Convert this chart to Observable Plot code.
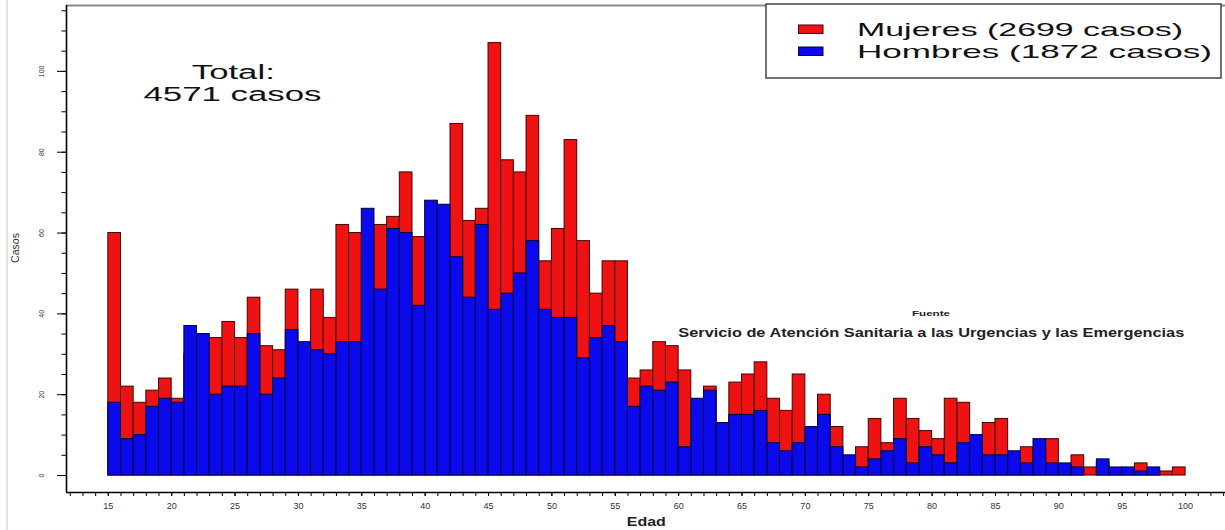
<!DOCTYPE html>
<html>
<head>
<meta charset="utf-8">
<script src="https://cdn.jsdelivr.net/npm/d3@7"></script>
<script src="https://cdn.jsdelivr.net/npm/@observablehq/plot@0.6"></script>
<style>
html, body { margin: 0; padding: 0; background: #fff; }
#wrap { position: relative; width: 1225px; height: 530px; overflow: hidden; }
</style>
</head>
<body>
<div id="wrap"></div>
<script>
// ---- Data ----
const edades = [15,16,17,18,19,20,21,22,23,24,25,26,27,28,29,30,31,32,33,34,35,36,37,38,39,40,41,42,43,44,45,46,47,48,49,50,51,52,53,54,55,56,57,58,59,60,61,62,63,64,65,66,67,68,69,70,71,72,73,74,75,76,77,78,79,80,81,82,83,84,85,86,87,88,89,90,91,92,93,94,95,96,97,98,99];
const mujeres = [60,22,18,21,24,19,30,30,34,38,34,44,32,31,46,28,46,39,62,60,55,62,64,75,59,58,57,87,63,66,107,78,75,89,53,61,83,58,45,53,53,24,26,33,32,26,16,22,11,23,25,28,19,16,25,10,20,12,4,7,14,8,19,14,11,9,19,18,8,13,14,5,7,7,9,2,5,2,3,1,1,3,1,1,2];
const hombres = [18,9,10,17,19,18,37,35,20,22,22,35,20,24,36,33,31,30,33,33,66,46,61,60,42,68,67,54,44,62,41,45,50,58,41,39,39,29,34,37,33,17,22,21,23,7,19,21,13,15,15,16,8,6,8,12,15,7,5,2,4,6,9,3,7,5,3,8,10,5,5,6,3,9,3,3,2,0,4,2,2,1,2,0,0];
const totalMujeres = 2699;
const totalHombres = 1872;
const yTicks = [0,20,40,60,80,100];
const xTicks = [15,20,25,30,35,40,45,50,55,60,65,70,75,80,85,90,95,100];
const serieNombres = ["Mujeres", "Hombres"];
const serieColores = ["#ee1212", "#0a0aec"];
const serieBordes = ["#4a0000", "#00003f"];
const ejeX = "Edad";
const ejeY = "Casos";
const fuente = "Fuente";
const fuenteTexto = "Servicio de Atención Sanitaria a las Urgencias y las Emergencias";

// ---- Build ----
const data = edades.map((e, i) => ({edad: e, mujeres: mujeres[i], hombres: hombres[i]}));
const xDomain = [11.7, 103.15];
const yDomain = [-4.2, 116.3];
const font = "'Liberation Sans', Arial, Helvetica, sans-serif";

const chart = Plot.plot({
  width: 1225,
  height: 530,
  marginLeft: 66,
  marginRight: 0,
  marginTop: 5,
  marginBottom: 38,
  x: {domain: xDomain},
  y: {domain: yDomain},
  style: {fontFamily: font, background: "transparent", color: "#000"},
  marks: [
    Plot.rect(data, {x1: "edad", x2: d => d.edad + 1, y1: 0, y2: "mujeres", fill: serieColores[0], stroke: serieBordes[0], strokeWidth: 1}),
    Plot.rect(data, {x1: "edad", x2: d => d.edad + 1, y1: 0, y2: "hombres", fill: serieColores[1], stroke: serieBordes[1], strokeWidth: 1}),
    Plot.ruleY([yDomain[1]], {stroke: "#8a8a8a", strokeWidth: 2}),
    Plot.ruleX([xDomain[0]], {stroke: "#000", strokeWidth: 1.6}),
    Plot.ruleY([yDomain[0]], {stroke: "#000", strokeWidth: 1.3}),
    Plot.axisY({ticks: d3.range(0, 116, 5), tickSize: 4.5, tickFormat: () => "", label: null}),
    Plot.axisY({ticks: yTicks, tickSize: 9, tickFormat: () => "", label: null}),
    Plot.text(yTicks, {y: d => d, text: d => String(d), frameAnchor: "left", dx: -24.5, rotate: -90, textAnchor: "middle", lineAnchor: "middle", fontSize: 7, fill: "#333"}),
    Plot.axisX({ticks: d3.range(12, 104), tickSize: 4, tickFormat: () => "", label: null}),
    Plot.axisX({ticks: xTicks, tickSize: 4, tickPadding: 6, fontSize: 9, fill: "#333", label: null})
  ]
});

document.getElementById("wrap").appendChild(chart);

// ---- Annotations and legend (horizontally stretched like the reference) ----
const svg = d3.select(chart);
svg.insert("line", ":first-child").attr("x1", 7).attr("x2", 7).attr("y1", 0).attr("y2", 530)
  .attr("stroke", "#e2e2e2").attr("stroke-width", 2);

function label(g, txt, x, y, size, width, opts = {}) {
  const t = g.append("text").attr("x", x).attr("y", y)
    .attr("font-family", font).attr("font-size", size)
    .attr("font-weight", opts.weight || "normal")
    .attr("fill", opts.fill || "#111")
    .attr("text-anchor", opts.anchor || "start")
    .text(txt);
  if (width) t.attr("textLength", width).attr("lengthAdjust", "spacingAndGlyphs");
  if (opts.rotate) t.attr("transform", `rotate(${opts.rotate},${x},${y})`);
  return t;
}

const ann = svg.append("g");
// Total
label(ann, "Total:", 233.3, 79, 19.5, 83, {anchor: "middle"});
label(ann, `${totalMujeres + totalHombres} casos`, 232.5, 101, 19.5, 178, {anchor: "middle"});
// Source
label(ann, fuente, 931, 316, 7, 38, {anchor: "middle", weight: "bold", fill: "#222"});
label(ann, fuenteTexto, 678.3, 337.3, 12, 506, {weight: "bold", fill: "#222"});
// Axis titles
label(ann, ejeX, 646.3, 526, 12, 39, {anchor: "middle", weight: "bold", fill: "#222"});
label(ann, ejeY, 18.5, 248, 11, 30, {anchor: "middle", rotate: -90, fill: "#333"});

// Legend
const leg = svg.append("g");
leg.append("rect").attr("x", 766).attr("y", 4).attr("width", 455).attr("height", 74)
  .attr("fill", "#fff").attr("stroke", "#444").attr("stroke-width", 1.5);
const legendTexts = [`${serieNombres[0]} (${totalMujeres} casos)`, `${serieNombres[1]} (${totalHombres} casos)`];
const legendWidths = [326, 355];
legendTexts.forEach((txt, i) => {
  leg.append("rect").attr("x", 798.5).attr("y", 25 + i * 22).attr("width", 24.5).attr("height", 8.5)
    .attr("fill", serieColores[i]).attr("stroke", serieBordes[i]).attr("stroke-width", 1);
  label(leg, txt, 857, 36.2 + i * 22.2, 19, legendWidths[i], {fill: "#111"});
});
</script>
</body>
</html>
